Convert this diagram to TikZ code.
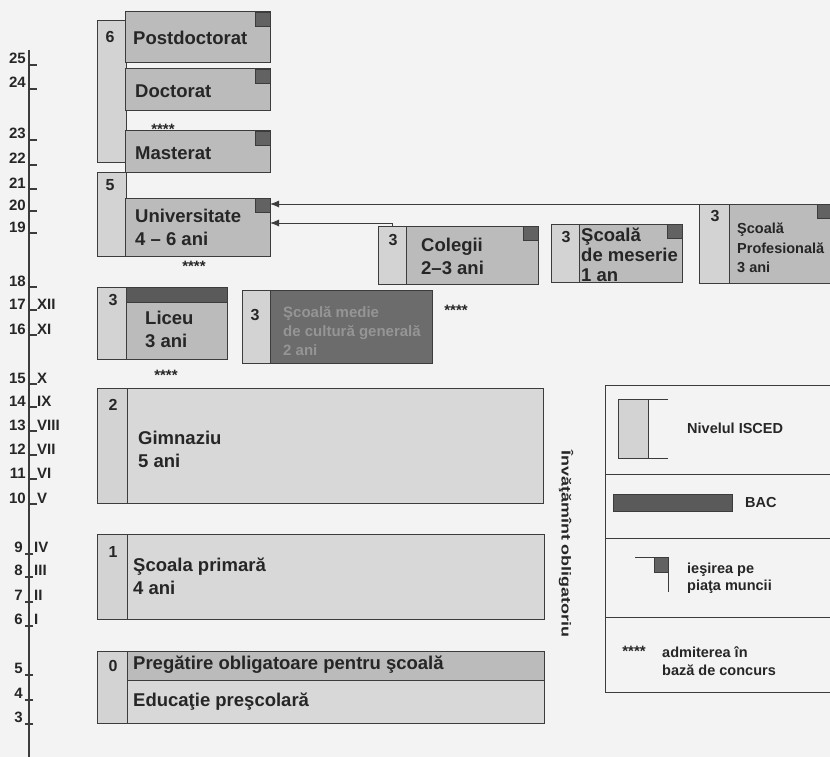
\documentclass[tikz,border=0pt]{standalone}
\usepackage{fontspec}
\setmainfont{Liberation Sans}
\usetikzlibrary{arrows.meta}
\definecolor{bgc}{HTML}{F3F3F3}
\definecolor{edgec}{HTML}{3C3C3C}
\definecolor{inkc}{HTML}{262626}
\definecolor{lvlc}{HTML}{D3D3D3}
\definecolor{midc}{HTML}{BBBBBB}
\definecolor{lightc}{HTML}{D8D8D8}
\definecolor{darkc}{HTML}{6C6C6C}
\definecolor{exitc}{HTML}{626262}
\definecolor{bacc}{HTML}{5A5A5A}
\definecolor{fadec}{HTML}{959595}
\begin{document}
\begin{tikzpicture}[x=1pt,y=-1pt,
  frame/.style={draw=edgec, line width=1pt, inner sep=0pt, outer sep=0pt, anchor=north west},
  lvl/.style={frame, fill=lvlc},
  exitsq/.style={draw=edgec, line width=0.6pt, fill=exitc, inner sep=0pt, outer sep=0pt, minimum width=15pt, minimum height=14pt, anchor=north east},
  big/.style={font=\bfseries\fontsize{18.5}{23}\selectfont, text=inkc, inner sep=0pt, anchor=west, align=left},
  num/.style={font=\bfseries\fontsize{16}{18}\selectfont, text=inkc, inner sep=0pt},
  axlab/.style={font=\bfseries\fontsize{15}{15}\selectfont, text=inkc, inner sep=0pt},
  stars/.style={font=\bfseries\fontsize{15}{15}\selectfont, text=inkc, inner sep=0pt},
  legtxt/.style={font=\bfseries\fontsize{14.5}{17.5}\selectfont, text=inkc, inner sep=0pt, anchor=west, align=left},
  legline/.style={draw=edgec, line width=1pt},
  conn/.style={draw=edgec, line width=1pt, -{Latex[length=9pt,width=7pt]}},
  tick/.style={draw=edgec, line width=1.2pt}
]
\useasboundingbox (0,0) rectangle (830,757);
\fill[bgc] (0,0) rectangle (830,757);

% ---------- age axis ----------
\draw[tick] (29,50) -- (29,757);
\foreach \t/\n/\r in {65/25/, 89/24/, 140/23/, 165/22/, 189/21/, 211/20/, 233/19/,
                      287/18/, 310/17/XII, 335/16/XI,
                      384/15/X, 407/14/IX, 431/13/VIII, 455/12/VII, 479/11/VI, 504/10/V}{
  \draw[tick] (29,\t) -- (37,\t);
  \node[axlab, anchor=base east] (an\n) at (26,\t-1) {\n};
  \node[axlab, anchor=base west] (ar\n) at (37,\t-1) {\r};
}
\foreach \t/\n/\r in {554/9/IV, 577/8/III, 602/7/II, 626/6/I, 675/5/, 700/4/, 724/3/}{
  \draw[tick] (25,\t) -- (33,\t);
  \node[axlab, anchor=base east] (an\n) at (23,\t-2) {\n};
  \node[axlab, anchor=base west] (ar\n) at (34,\t-2) {\r};
}

% ---------- ISCED 6 / 5 ----------
\node[lvl, minimum width=29pt, minimum height=142pt] (b6) at (97,21) {};
\node[frame, fill=midc, minimum width=145pt, minimum height=51pt] (post) at (125,12) {};
\node[frame, fill=midc, minimum width=145pt, minimum height=42pt] (doc) at (125,69) {};
\node[frame, fill=midc, minimum width=145pt, minimum height=41pt] (mast) at (125,131) {};
\node[lvl, minimum width=29pt, minimum height=84pt] (b5) at (97,172) {};
\node[frame, fill=midc, minimum width=145pt, minimum height=58pt] (univ) at (125,198) {};
\node[exitsq] (xpost) at (post.north east) {};
\node[exitsq] (xdoc) at (doc.north east) {};
\node[exitsq] (xmast) at (mast.north east) {};
\node[exitsq] (xuniv) at (univ.north east) {};
\node[num] (n6) at (110,37) {6};
\node[num] (n5) at (110,185) {5};
\node[big] (tpost) at (133,38) {Postdoctorat};
\node[big] (tdoc) at (135,91) {Doctorat};
\node[big] (tmast) at (135,153) {Masterat};
\node[big] (tuniv) at (135,227) {Universitate\\4 – 6 ani};
\node[stars] (s1) at (163,129) {****};
\node[stars] (s2) at (194,266) {****};

% ---------- ISCED 3 post-secondary / vocational ----------
\node[lvl, minimum width=28pt, minimum height=58pt] (colbar) at (378,226) {};
\node[frame, fill=midc, minimum width=132pt, minimum height=58pt] (coleg) at (406,226) {};
\node[exitsq] (xcoleg) at (coleg.north east) {};
\node[num] (ncol) at (393,240) {3};
\node[big] (tcol) at (421,256) {Colegii\\2–3 ani};

\node[lvl, minimum width=28pt, minimum height=58pt] (mesbar) at (551,224) {};
\node[frame, fill=midc, minimum width=103pt, minimum height=58pt] (mes) at (579,224) {};
\node[exitsq] (xmes) at (mes.north east) {};
\node[num] (nmes) at (566,237) {3};
\node[big, font=\bfseries\fontsize{18.5}{20}\selectfont] (tmes) at (581,255) {Şcoală\\de meserie\\1 an};

\node[lvl, minimum width=30pt, minimum height=79pt] (profbar) at (699,204) {};
\coordinate (prTL) at (729,204);
\coordinate (prTR) at (831,204);
\coordinate (prBR) at (831,283);
\coordinate (prBL) at (729,283);
\fill[midc] (prTL) rectangle (prBR);
\draw[legline] (prTR) -- (prTL) -- (prBL) -- (prBR);
\node[exitsq, anchor=north west, minimum width=14pt] (xprof) at (817,204) {};
\node[num] (nprof) at (715,216) {3};
\node[big, font=\bfseries\fontsize{14.5}{19.5}\selectfont] (tprof) at (737,248) {Şcoală\\Profesională\\3 ani};

\draw[conn] (profbar.north west) -- (profbar.north west -| univ.east);
\draw[conn] (colbar.north) |- ([yshift=4pt]univ.east);

% ---------- ISCED 3 upper secondary ----------
\node[lvl, minimum width=29pt, minimum height=72pt] (licbar) at (97,287) {};
\node[frame, fill=midc, minimum width=101pt, minimum height=72pt] (lic) at (126,287) {};
\node[frame, fill=bacc, minimum width=101pt, minimum height=15pt] (bac) at (126,287) {};
\node[num] (nlic) at (113,300) {3};
\node[big] (tlic) at (145,329) {Liceu\\3 ani};
\node[stars] (s3) at (166,375) {****};

\node[lvl, minimum width=28pt, minimum height=73pt] (medbar) at (242,290) {};
\node[frame, fill=darkc, minimum width=162pt, minimum height=73pt] (med) at (270,290) {};
\node[num] (nmed) at (255,315) {3};
\node[big, font=\bfseries\fontsize{15}{19}\selectfont, text=fadec] (tmed) at (283,331) {Şcoală medie\\de cultură generală\\2 ani};
\node[stars] (s4) at (456,310) {****};

% ---------- ISCED 2 / 1 / 0 ----------
\node[lvl, minimum width=30pt, minimum height=115pt] (gimbar) at (97,388) {};
\node[frame, fill=lightc, minimum width=416pt, minimum height=115pt] (gim) at (127,388) {};
\node[num] (ngim) at (113,405) {2};
\node[big] (tgim) at (138,449) {Gimnaziu\\5 ani};

\node[lvl, minimum width=30pt, minimum height=85pt] (primbar) at (97,534) {};
\node[frame, fill=lightc, minimum width=417pt, minimum height=85pt] (prim) at (127,534) {};
\node[num] (nprim) at (113,552) {1};
\node[big] (tprim) at (133,576) {Şcoala primară\\4 ani};

\node[lvl, minimum width=30pt, minimum height=72pt] (presbar) at (97,651) {};
\node[frame, fill=midc, minimum width=417pt, minimum height=29pt] (preg) at (127,651) {};
\node[frame, fill=lightc, minimum width=417pt, minimum height=43pt] (educ) at (127,680) {};
\node[num] (npres) at (113,666) {0};
\node[big] (tpreg) at (133,665) {Pregătire obligatoare pentru şcoală};
\node[big] (teduc) at (133,702) {Educaţie preşcolară};

\node[rotate=-90, font=\bfseries\fontsize{13}{13}\selectfont, text=inkc, inner sep=0pt] (oblig) at (566,544)
  {\scalebox{1.38}[1]{Învăţămînt obligatoriu}};

% ---------- legend (open on the right, cut by the page edge) ----------
\coordinate (lgTR) at (831,385);
\coordinate (lgTL) at (605,385);
\coordinate (lgBL) at (605,692);
\coordinate (lgBR) at (831,692);
\draw[legline] (lgTR) -- (lgTL) -- (lgBL) -- (lgBR);
\draw[legline] (605,474) -- (831,474);
\draw[legline] (605,538) -- (831,538);
\draw[legline] (605,617) -- (831,617);
\node[lvl, minimum width=30pt, minimum height=59pt] (legisced) at (618,399) {};
\draw[legline] (legisced.north east) -- ++(20,0);
\draw[legline] (legisced.south east) -- ++(20,0);
\node[legtxt] (tisced) at (687,428) {Nivelul ISCED};
\node[frame, fill=bacc, minimum width=119pt, minimum height=17pt] (legbac) at (613,494) {};
\node[legtxt] (tbac) at (745,503) {BAC};
\coordinate (exA) at (635,557);
\coordinate (exB) at (668,557);
\coordinate (exC) at (668,592);
\draw[legline] (exA) -- (exB) -- (exC);
\node[exitsq, minimum width=14pt, minimum height=15pt] (legexit) at (exB) {};
\node[legtxt] (texit) at (687,578) {ieşirea pe\\piaţa muncii};
\node[stars] (s5) at (634,651) {****};
\node[legtxt] (tadm) at (662,661) {admiterea în\\bază de concurs};
\end{tikzpicture}
\end{document}
